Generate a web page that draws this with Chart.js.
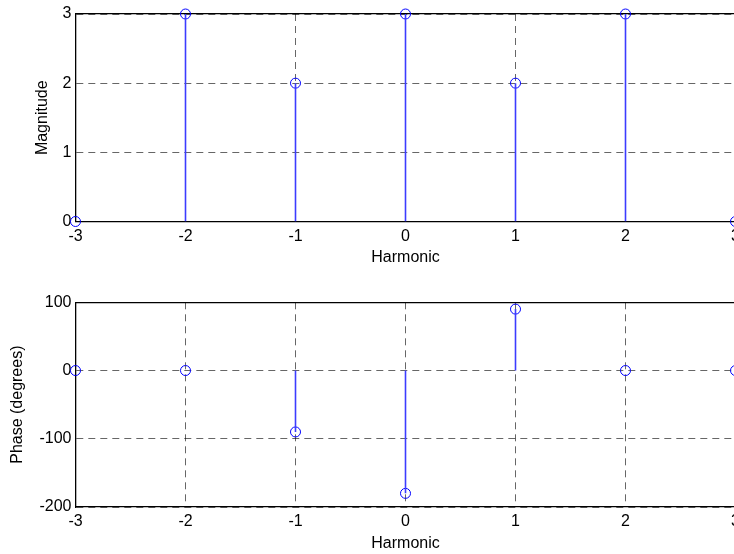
<!DOCTYPE html>
<html>
<head>
<meta charset="utf-8">
<script src="https://cdn.jsdelivr.net/npm/chart.js@4/dist/chart.umd.min.js"></script>
<style>
  body { margin: 0; background: #fff; overflow: hidden; }
  #wrap { position: relative; width: 734px; height: 554px; overflow: hidden; background: #fff; }
  canvas { position: absolute; left: 0; }
  #magChart { top: 0; }
  #phaseChart { top: 280px; }
</style>
</head>
<body>
<div id="wrap">
  <canvas id="magChart" width="760" height="280"></canvas>
  <canvas id="phaseChart" width="760" height="274"></canvas>
</div>
<script>
// stem plot data: harmonic number vs magnitude / phase
const harmonics = [-3, -2, -1, 0, 1, 2, 3];
const magnitude = [0, 3, 2, 3, 2, 3, 0];
const phaseDeg = [0, 0, -90, -180, 90, 0, 0];

const xLabel = "Harmonic";
const magLabel = "Magnitude";
const phaseLabel = "Phase (degrees)";

const magTicks = { min: 0, max: 3, step: 1 };
const phaseTicks = { min: -200, max: 100, step: 100 };

const stemBlue = "#3c3cff";
const gridDash = [7, 5];
const font = { family: "Arial, 'Liberation Sans', sans-serif", size: 16 };

// vertical line from 0 to the value, then a gap
function stems(xs, ys) {
  let out = [];
  xs.forEach((x, i) => {
    out.push({ x: x, y: 0 });
    out.push({ x: x, y: ys[i] });
    out.push({ x: x, y: null });
  });
  return out;
}

function markers(xs, ys) {
  return xs.map((x, i) => ({ x: x, y: ys[i] }));
}

function makeStemChart(id, ys, yLabel, yTicks, opts) {
  let ctx = document.getElementById(id).getContext("2d");
  return new Chart(ctx, {
    type: "line",
    data: {
      datasets: [
        {
          data: stems(harmonics, ys),
          borderColor: stemBlue,
          backgroundColor: stemBlue,
          borderWidth: 1.6,
          pointRadius: 0,
          spanGaps: false,
          fill: false,
        },
        {
          data: markers(harmonics, ys),
          showLine: false,
          pointRadius: 5,
          pointBorderWidth: 1,
          pointBorderColor: "#0000ff",
          pointBackgroundColor: "rgba(0,0,0,0)",
          clip: false,
        },
      ],
    },
    options: {
      responsive: false,
      animation: false,
      layout: {
        padding: { top: opts.padTop, right: 24.5, left: 0, bottom: 0 },
      },
      plugins: {
        legend: { display: false },
        tooltip: { enabled: false },
      },
      scales: {
        x: {
          type: "linear",
          position: "bottom",
          min: -3,
          max: 3,
          z: 1,
          afterFit: (s) => { s.height = opts.xHeight; },
          ticks: {
            stepSize: 1,
            padding: 5,
            color: "#000",
            font: font,
            maxRotation: 0,
          },
          grid: {
            color: "rgba(0,0,0,0.6)",
            drawTicks: false,
          },
          // in v4 the dash applies to the grid lines, the axis line stays solid
          border: { display: true, color: "#000", width: 1.3, dash: gridDash },
          title: {
            display: true,
            text: xLabel,
            color: "#000",
            font: font,
            padding: { top: 0, bottom: opts.xTitlePad },
          },
        },
        xTop: {
          type: "linear",
          position: "top",
          min: -3,
          max: 3,
          z: 2,
          afterFit: (s) => { s.height = 0; },
          ticks: { display: false },
          grid: { display: false, drawTicks: false },
          border: { display: true, color: "#000", width: 1.3 },
        },
        y: {
          min: yTicks.min,
          max: yTicks.max,
          z: 1,
          afterFit: (s) => { s.width = 75.5; },
          ticks: {
            stepSize: yTicks.step,
            padding: 4,
            color: "#000",
            font: font,
          },
          grid: {
            color: "rgba(0,0,0,0.6)",
            drawTicks: false,
          },
          border: { display: true, color: "#000", width: 1.3, dash: gridDash },
          title: {
            display: true,
            text: yLabel,
            color: "#000",
            font: font,
            padding: { top: opts.yTitlePad, bottom: 0 },
          },
        },
      },
    },
  });
}

let magChart = makeStemChart("magChart", magnitude, magLabel, magTicks, {
  padTop: 14,
  xHeight: 58.5,
  xTitlePad: 12.4,
  yTitlePad: 33,
});

let phaseChart = makeStemChart("phaseChart", phaseDeg, phaseLabel, phaseTicks, {
  padTop: 22.3,
  xHeight: 47,
  xTitlePad: 0.4,
  yTitlePad: 8.4,
});
</script>
</body>
</html>
